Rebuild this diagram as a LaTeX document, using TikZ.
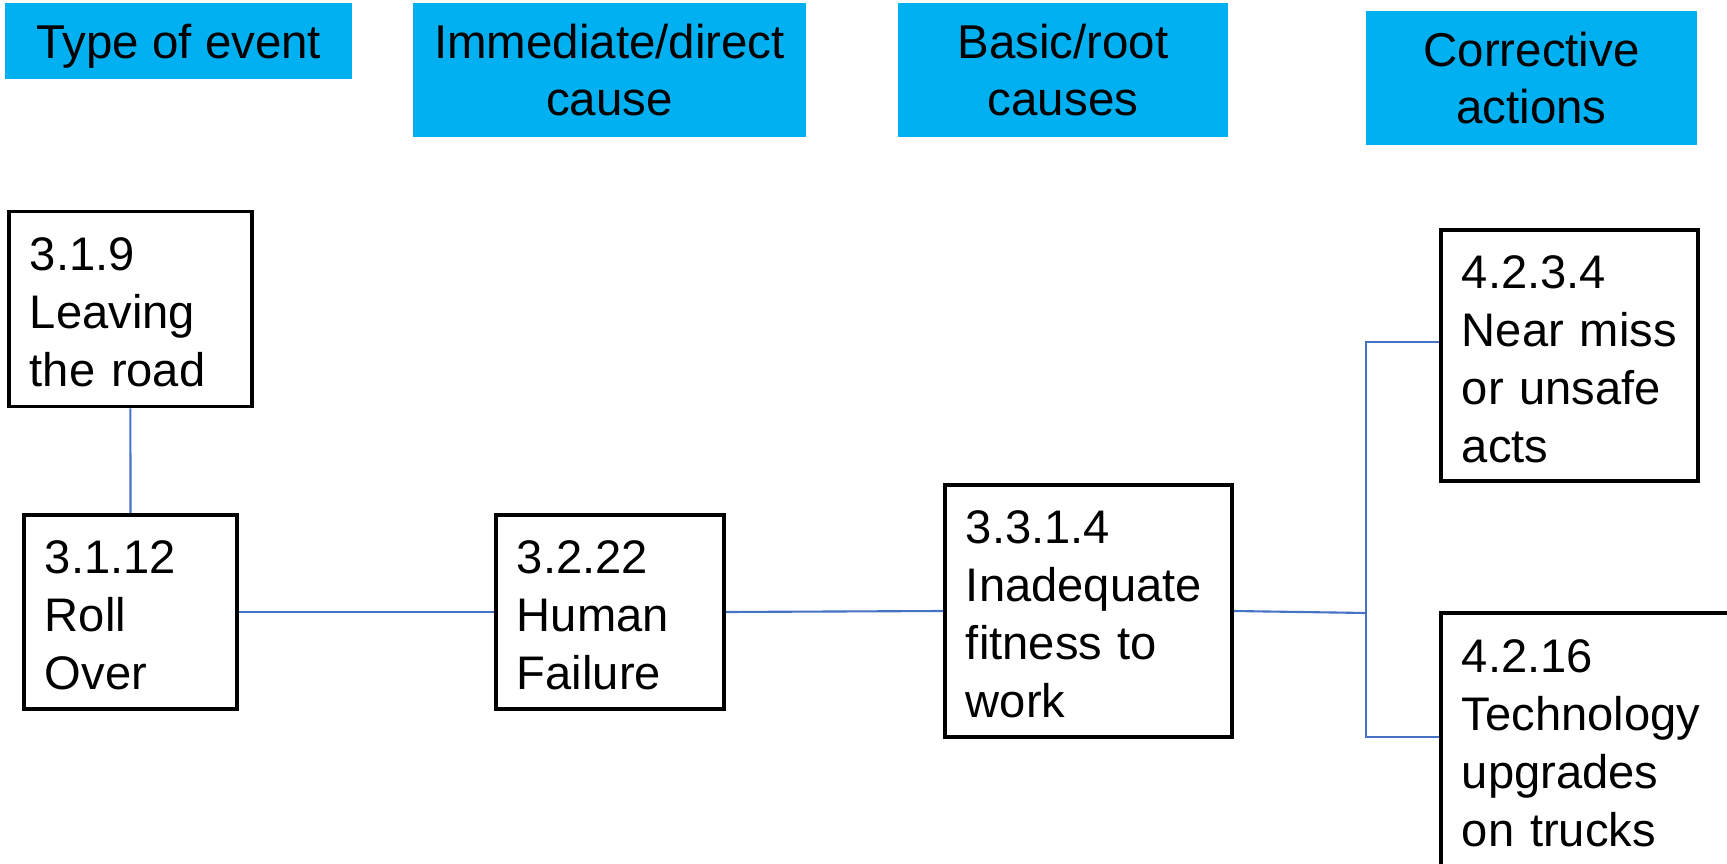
\documentclass[tikz,border=0pt]{standalone}
\usepackage{fontspec}
\setmainfont{Liberation Sans}
\definecolor{headblue}{HTML}{00B0F0}
\definecolor{linkblue}{HTML}{4472C4}
\begin{document}
\begin{tikzpicture}[x=0.01cm,y=-0.01cm,
  head/.style={fill=headblue, align=center, inner sep=0pt,
    font=\fontsize{13.5}{16.3}\selectfont},
  box/.style={draw, line width=1pt, align=left, inner xsep=0.21cm, inner ysep=0pt,
    font=\fontsize{13.4}{16.5}\selectfont,
    execute at begin node={\rule{0pt}{11.4pt}}},
  conn/.style={draw=linkblue, line width=0.6pt}]
\useasboundingbox (0,0) rectangle (1727,864);

% column headings
\node[head, text depth=0pt, minimum width=3.465cm, minimum height=0.76cm] (h1) at (178.7,41.3) {Type of event};
\node[head, minimum width=3.93cm, minimum height=1.333cm] (h2) at (609.5,70) {Immediate/direct\\cause};
\node[head, minimum width=3.30cm, minimum height=1.333cm] (h3) at (1063,70) {Basic/root\\causes};
\node[head, minimum width=3.31cm, minimum height=1.344cm] (h4) at (1531.5,78.2) {Corrective\\actions};

% event, cause and action boxes
\node[box, minimum width=2.43cm, minimum height=1.95cm, text width=2.01cm] (a) at (130.4,309) {3.1.9\\Leaving\\the road};
\node[box, minimum width=2.13cm, minimum height=1.94cm, text width=1.71cm] (b) at (130.5,612) {3.1.12\\Roll\\Over};
\node[box, minimum width=2.28cm, minimum height=1.94cm, text width=1.86cm] (c) at (610,612) {3.2.22\\Human\\Failure};
\node[box, minimum width=2.87cm, minimum height=2.52cm, text width=2.45cm] (d) at (1088.5,611) {3.3.1.4\\Inadequate\\fitness to\\work};
\node[box, minimum width=2.57cm, minimum height=2.51cm, text width=2.15cm] (e) at (1569.5,355.5) {4.2.3.4\\Near miss\\or unsafe\\acts};
\node[box, minimum width=2.91cm, minimum height=2.53cm, text width=2.49cm] (f) at (1586.5,739.5) {4.2.16\\Technology\\upgrades\\on trucks};

% connectors
\draw[conn] (a.south) -- (b.north);
\draw[conn] (b.east) -- (c.west);
\draw[conn] (c.east) -- (d.west);
\coordinate (j) at (1366,613);
\coordinate (jt) at (1366,342);
\coordinate (jb) at (1366,737);
\draw[conn] (d.east) -- (j);
\draw[conn] (e.west |- jt) -- (jt) -- (jb) -- (f.west |- jb);
\end{tikzpicture}
\end{document}
